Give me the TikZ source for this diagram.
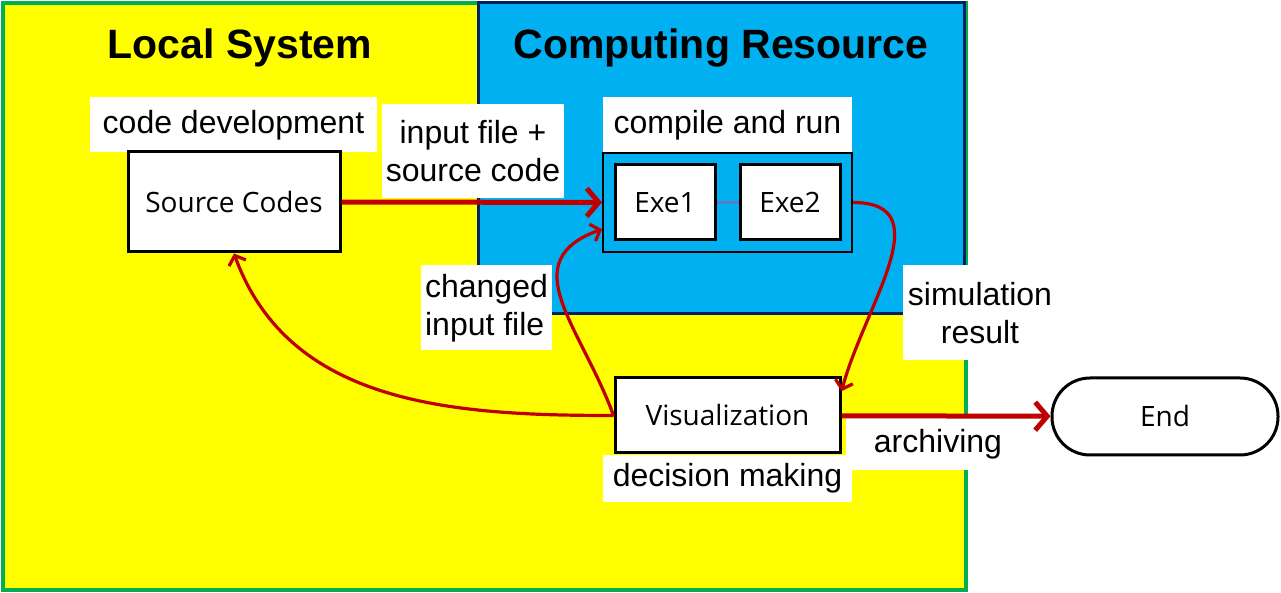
\documentclass[tikz,border=0pt]{standalone}
\usepackage{fontspec}
\setmainfont{Liberation Sans}
\newfontfamily\boxfont{Open Sans}
\usepackage{tikz}
\usetikzlibrary{arrows.meta}

\definecolor{sysyellow}{RGB}{255,255,0}
\definecolor{sysgreen}{RGB}{0,176,80}
\definecolor{resblue}{RGB}{0,176,240}
\definecolor{resnavy}{RGB}{0,32,96}
\definecolor{flowred}{RGB}{192,0,0}
\definecolor{linkblue}{RGB}{79,129,189}

\tikzset{
  title/.style={font=\fontsize{20.5}{24}\selectfont\bfseries},
  lbl/.style={fill=white, font=\fontsize{16}{19}\selectfont, inner sep=2pt},
  box/.style={draw, line width=1.5pt, fill=white, font=\boxfont\fontsize{14}{16}\selectfont},
  flow/.style={draw=flowred, line width=2.5pt, -{Straight Barb[length=6pt,width=14pt]}},
  back/.style={draw=flowred, line width=1.6pt, -{Straight Barb[length=4pt,width=9pt]}}
}

\begin{document}
\begin{tikzpicture}[x=0.5pt,y=-0.5pt]
\useasboundingbox (0,0) rectangle (1281,593);
\draw[draw=sysgreen, fill=sysyellow, line width=2pt] (3,3) rectangle (966,590);
\draw[draw=resnavy, fill=resblue, line width=1.5pt] (478,3) rectangle (964,314);
\node[title] (lsys) at (240,48) {Local System};
\node[title] (cres) at (721,48) {Computing Resource};

\node[lbl, minimum width=143.5pt, minimum height=27.5pt] (dev) at (233.5,125) {code development};
\node[box, minimum width=106pt, minimum height=50pt] (src) at (234,202) {Source Codes};
\node[lbl, align=center, minimum width=85pt, minimum height=47pt] (inp) at (473,151) {input file +\\source code};

\node[lbl, minimum width=124.5pt, minimum height=27.5pt] (run) at (727.5,125) {compile and run};
\node[draw, line width=1pt, fill=resblue, minimum width=124.5pt, minimum height=49.5pt] (grp) at (727.5,202.5) {};
\node[box, minimum width=50pt, minimum height=37.5pt] (exe1) at (665,202.5) {Exe1};
\node[box, minimum width=50pt, minimum height=37.5pt] (exe2) at (790,202.5) {Exe2};
\draw[linkblue, line width=1.5pt] (exe1) -- (exe2);

\node[lbl, align=left, minimum width=62.5pt, minimum height=42.5pt] (chg) at (486.5,308) {changed\\input file};
\node[lbl, align=center, minimum width=77pt, minimum height=47.5pt] (sim) at (980,313) {simulation\\result};

\node[lbl, minimum width=124.5pt, minimum height=23.5pt] (dec) at (727.5,478.5) {decision making};
\node[box, minimum width=112.5pt, minimum height=37.5pt] (vis) at (727.5,415.5) {Visualization};
\node[lbl, text width=76pt, align=right, minimum height=26.5pt] (arc) at (926,444) {archiving};
\node[box, rounded corners=19pt, minimum width=113pt, minimum height=38.5pt] (end) at (1165,416.5) {End};

\draw[flow] (src) -- (grp);
\draw[flow] (vis) -- (end);
\draw[back] (vis.west) to[out=180, in=-70] (src.south);
\draw[back] (vis.west) to[out=110, in=200, looseness=1.3] (grp.192);
\draw[back] (grp.east) to[out=0, in=75, looseness=1.2] (vis.12);
\end{tikzpicture}
\end{document}
